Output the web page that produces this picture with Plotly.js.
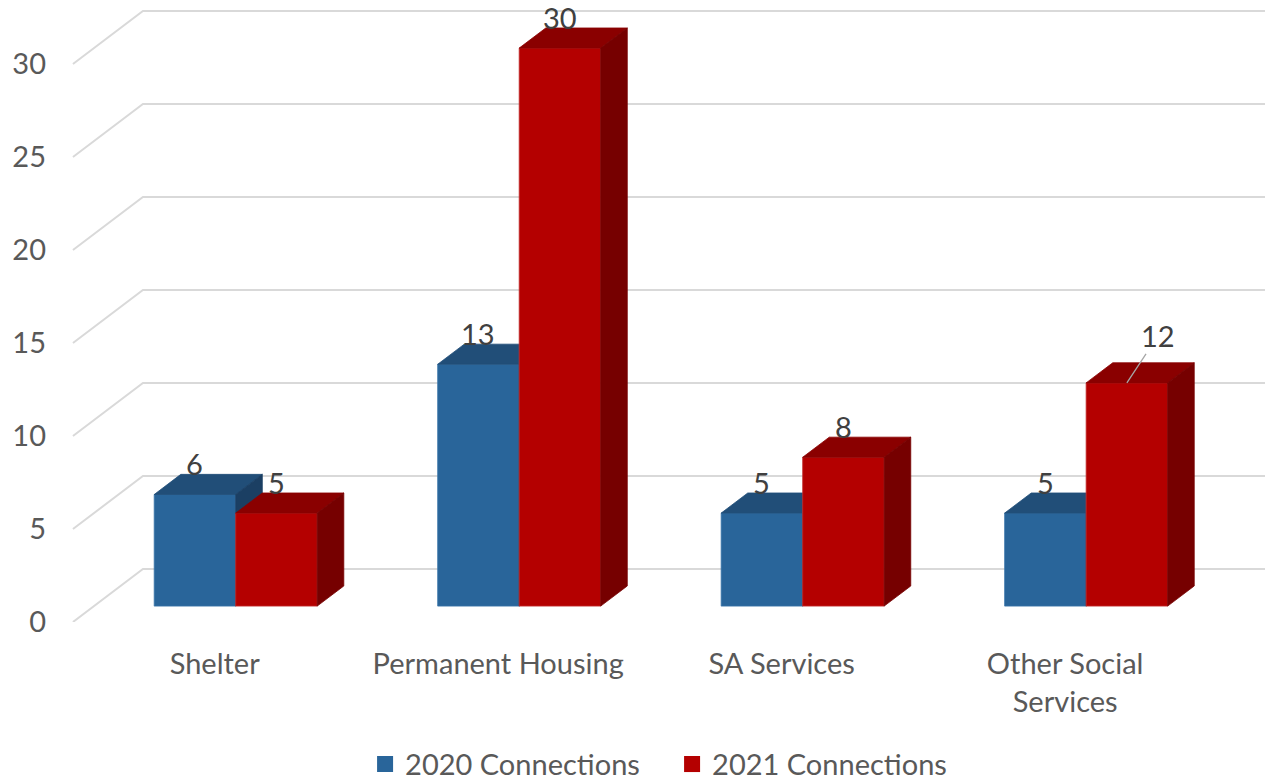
<!DOCTYPE html>
<html>
<head>
<meta charset="utf-8">
<script src="https://cdn.plot.ly/plotly-3.0.1.min.js"></script>
<style>html,body{margin:0;padding:0;background:#fff;}#chart{width:1265px;height:783px;}</style>
</head>
<body>
<div id="chart"></div>
<script>
// ---- data ----
const categories = ['Shelter', 'Permanent Housing', 'SA Services', 'Other Social<br>Services'];
const seriesNames = ['2020 Connections', '2021 Connections'];
const values2020 = [6, 13, 5, 5];
const values2021 = [5, 30, 8, 12];
const yTickVals = [0, 5, 10, 15, 20, 25, 30];
const yTickText = ['0', '5', '10', '15', '20', '25', '30'];

// ---- 3D projection style (oblique) ----
const DX = 0.2469;   // full depth shift in x (category units)
const DY = 2.849;    // full depth shift in y (value units)
const Z0 = 0.30;     // bar front depth fraction
const Z1 = 0.68;     // bar back depth fraction
const W = 0.2875;    // bar width (category units)
const FONT = 'Lato, "Open Sans", sans-serif';
const FS = 29;

const colors = {
  s2020: {front: '#29659A', top: '#214E78', side: '#1B3F63'},
  s2021: {front: '#B40000', top: '#8A0000', side: '#760000'}
};

function facePolys(vals, sideSign) {
  const front = {x: [], y: []}, top = {x: [], y: []}, side = {x: [], y: []};
  const ddx = (Z1 - Z0) * DX, ddy = (Z1 - Z0) * DY;
  vals.forEach((v, i) => {
    const cx = i + Z0 * DX;
    const x0 = sideSign < 0 ? cx - W : cx;
    const x1 = x0 + W;
    const y0 = Z0 * DY;
    const y1 = y0 + v;
    front.x.push(x0, x1, x1, x0, x0, null); front.y.push(y0, y0, y1, y1, y0, null);
    top.x.push(x0, x1, x1 + ddx, x0 + ddx, x0, null); top.y.push(y1, y1, y1 + ddy, y1 + ddy, y1, null);
    side.x.push(x1, x1 + ddx, x1 + ddx, x1, x1, null); side.y.push(y0, y0 + ddy, y1 + ddy, y1, y0, null);
  });
  return {front, top, side};
}

function polyTrace(p, color, edge) {
  return {type: 'scatter', mode: 'lines', x: p.x, y: p.y, fill: 'toself', fillcolor: color,
    line: {color: edge || color, width: 0.8}, hoverinfo: 'skip', showlegend: false};
}

const traces = [];
// gridlines on the back wall + left wall
const gx = [], gy = [];
yTickVals.forEach(t => {
  gx.push(-0.5, -0.5 + DX, 3.5 + DX + 0.2, null);
  gy.push(t, t + DY, t + DY, null);
});
traces.push({type: 'scatter', mode: 'lines', x: gx, y: gy, line: {color: '#D9D9D9', width: 2},
  hoverinfo: 'skip', showlegend: false});

const b20 = facePolys(values2020, -1);
const b21 = facePolys(values2021, 1);
traces.push(polyTrace(b20.front, colors.s2020.front, '#3A75AA'));
traces.push(polyTrace(b20.top, colors.s2020.top));
traces.push(polyTrace(b20.side, colors.s2020.side));
traces.push(polyTrace(b21.front, colors.s2021.front, '#C43030'));
traces.push(polyTrace(b21.top, colors.s2021.top));
traces.push(polyTrace(b21.side, colors.s2021.side));

// legend entries
traces.push({type: 'scatter', mode: 'markers', x: [null], y: [null], name: seriesNames[0],
  marker: {symbol: 'square', size: 19, color: colors.s2020.front}});
traces.push({type: 'scatter', mode: 'markers', x: [null], y: [null], name: seriesNames[1],
  marker: {symbol: 'square', size: 19, color: colors.s2021.front}});

// data labels
const annotations = [];
function addLabels(vals, sideSign) {
  vals.forEach((v, i) => {
    const cx = i + Z0 * DX + sideSign * W / 2;
    const lifted = sideSign > 0 && i === 3;
    if (lifted) {
      annotations.push({x: cx, y: v + Z0 * DY, xref: 'x', yref: 'y', text: String(v),
        showarrow: true, arrowhead: 0, arrowwidth: 1.3, arrowcolor: '#A6A6A6', ax: 31, ay: -47,
        standoff: 0, borderpad: 0, font: {family: FONT, size: FS, color: '#404040'}});
    } else {
      annotations.push({x: cx, y: v + Z1 * DY, xref: 'x', yref: 'y', text: String(v),
        showarrow: false, yanchor: 'bottom', yshift: -8, borderpad: 0,
        font: {family: FONT, size: FS, color: '#404040'}});
    }
  });
}
addLabels(values2020, -1);
addLabels(values2021, 1);

const layout = {
  width: 1265, height: 783,
  margin: {l: 50, r: 0, t: 0, b: 161},
  paper_bgcolor: '#ffffff', plot_bgcolor: '#ffffff',
  font: {family: FONT, size: FS, color: '#595959'},
  showlegend: true,
  legend: {orientation: 'h', x: 0.512, xanchor: 'center', yref: 'container', y: 0.024, yanchor: 'middle',
    entrywidth: 262, entrywidthmode: 'pixels',
    font: {family: FONT, size: FS, color: '#595959'}, itemclick: false},
  xaxis: {range: [-0.581, 3.705], tickvals: [0, 1, 2, 3], ticktext: categories, showgrid: false,
    zeroline: false, showline: false, ticks: '', ticklabelstandoff: 22,
    tickfont: {family: FONT, size: FS, color: '#595959'}, fixedrange: true},
  yaxis: {range: [0, 622 / 18.6], tickvals: yTickVals, ticktext: yTickText, showgrid: false,
    zeroline: false, showline: false, ticks: '', ticklabelstandoff: 3,
    tickfont: {family: FONT, size: FS, color: '#595959'}, fixedrange: true},
  annotations: annotations
};

Plotly.newPlot('chart', traces, layout, {displayModeBar: false, staticPlot: true});
</script>
</body>
</html>
